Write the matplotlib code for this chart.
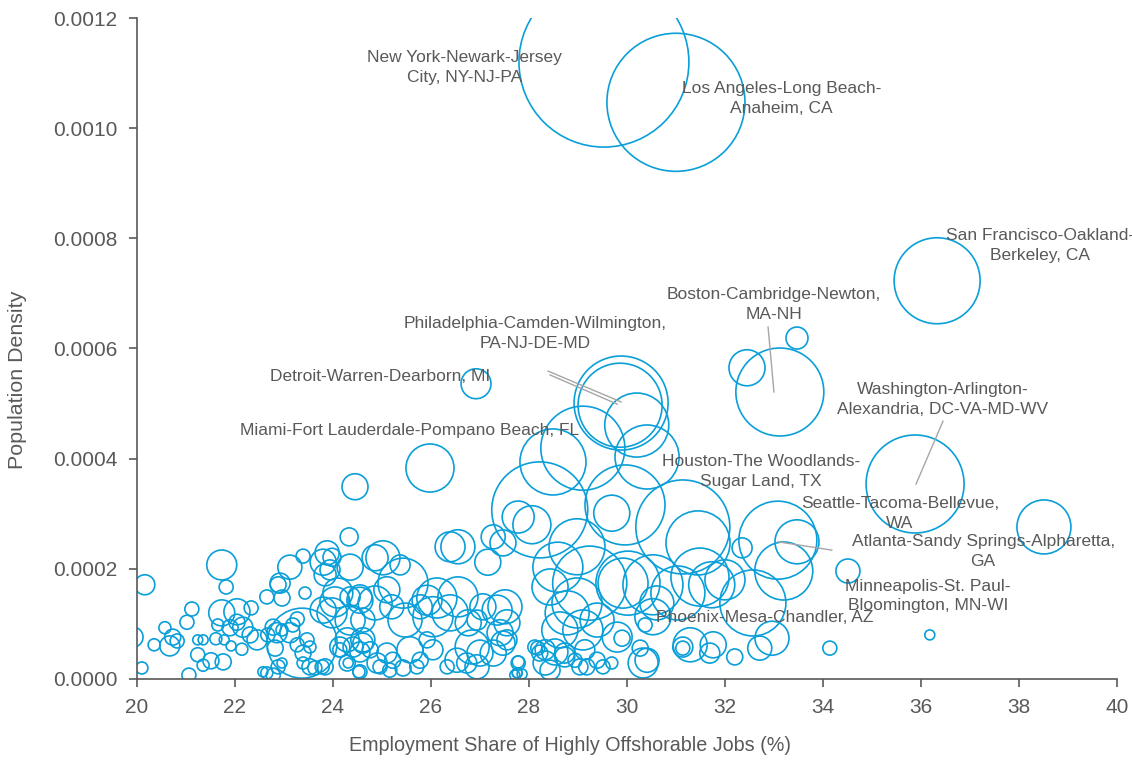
import matplotlib
matplotlib.use("Agg")
import matplotlib.pyplot as plt

plt.rcParams['font.family'] = ['Liberation Sans', 'DejaVu Sans']

BUBBLE = '#0A9FD8'
TEXT = '#595959'
LEADER = '#A6A6A6'

# metro areas: share of highly offshorable jobs (%), population density, population (millions)
share = [
    29.53, 31.00, 36.33, 33.12, 33.47, 32.45, 35.88, 38.51, 34.51, 33.08,
    33.47, 33.20, 34.14, 36.18, 26.92, 25.98, 24.45, 24.33, 29.88, 29.86,
    30.20, 30.41, 28.49, 29.10, 28.22, 27.78, 28.06, 27.27, 26.39, 26.55,
    27.16, 28.98, 29.96, 29.69, 31.14, 32.35, 31.45, 31.49, 32.57, 31.73,
    31.04, 30.53, 30.02, 32.00, 30.53, 30.37, 29.90, 29.80, 30.27, 30.41,
    30.33, 29.69, 31.14, 31.29, 31.69, 31.76, 32.20, 32.71, 32.96,
    27.51, 27.55, 27.47, 27.78, 27.71, 28.18, 28.22, 28.33, 28.43, 28.53,
    28.73, 29.04, 28.43, 28.59, 29.24, 28.98, 28.78, 28.63, 29.10, 29.39,
    29.92, 30.61, 31.14,
    25.02, 25.37, 25.43, 24.35, 23.88, 23.94, 23.80, 24.10, 24.55, 24.86,
    25.10, 25.20, 25.47, 25.78, 25.92, 26.12, 26.04, 26.39, 26.55, 26.76,
    26.94, 27.06, 27.35, 27.41, 27.55, 26.84, 27.00, 27.27, 26.53, 26.73,
    26.94, 26.33, 27.47, 27.76, 24.14, 24.41, 24.61, 24.76, 24.29, 24.55,
    25.10, 25.22, 25.57, 25.78, 25.71, 25.43, 24.96, 25.16, 23.84, 26.04,
    25.92,
    20.16, 19.92, 20.10, 21.73, 21.82, 21.12, 21.02, 20.57, 20.73, 20.67,
    20.82, 20.35, 21.24, 21.35, 21.24, 21.35, 21.51, 21.76, 21.06, 21.73,
    22.04, 22.33, 21.65, 21.90, 22.04, 22.16, 22.31, 21.61, 21.78, 21.92,
    22.14, 22.45, 22.65, 22.88, 22.96, 22.78, 22.67, 22.86, 22.96, 22.82,
    23.43, 23.27, 23.18, 23.12, 23.37, 23.27, 23.39, 23.47, 23.53, 23.39,
    23.53, 23.63, 23.78, 22.57, 22.65, 22.88, 22.78, 22.96, 23.12, 23.39,
    23.80, 23.98, 23.84, 24.86, 22.92, 24.04, 23.98, 24.35, 24.55, 24.35,
    24.61, 24.29, 24.61, 24.55, 24.14, 24.31, 24.53, 24.90,
    27.78, 27.76, 27.86, 29.18, 28.73, 28.33, 28.12, 29.14, 29.39, 29.51,
    28.94,
]
density = [
    0.001120, 0.001047, 0.000723, 0.000521, 0.000619, 0.000565, 0.000354, 0.000276, 0.000196, 0.000252,
    0.000249, 0.000196, 0.000056, 0.000080, 0.000536, 0.000383, 0.000349, 0.000258, 0.000501, 0.000497,
    0.000461, 0.000403, 0.000394, 0.000419, 0.000307, 0.000294, 0.000280, 0.000258, 0.000240, 0.000240,
    0.000212, 0.000240, 0.000316, 0.000301, 0.000276, 0.000238, 0.000247, 0.000185, 0.000138, 0.000171,
    0.000156, 0.000171, 0.000174, 0.000180, 0.000113, 0.000098, 0.000074, 0.000076, 0.000056, 0.000034,
    0.000029, 0.000029, 0.000056, 0.000062, 0.000047, 0.000062, 0.000040, 0.000056, 0.000074,
    0.000131, 0.000102, 0.000065, 0.000029, 0.000007, 0.000056, 0.000047, 0.000029, 0.000016, 0.000049,
    0.000040, 0.000022, 0.000167, 0.000203, 0.000174, 0.000138, 0.000120, 0.000089, 0.000089, 0.000107,
    0.000174, 0.000138, 0.000058,
    0.000220, 0.000207, 0.000174, 0.000203, 0.000229, 0.000198, 0.000125, 0.000156, 0.000149, 0.000138,
    0.000162, 0.000131, 0.000107, 0.000131, 0.000143, 0.000147, 0.000113, 0.000120, 0.000149, 0.000102,
    0.000107, 0.000131, 0.000125, 0.000084, 0.000071, 0.000058, 0.000047, 0.000047, 0.000034, 0.000029,
    0.000022, 0.000022, 0.000247, 0.000011, 0.000058, 0.000058, 0.000071, 0.000053, 0.000029, 0.000013,
    0.000047, 0.000034, 0.000053, 0.000034, 0.000022, 0.000020, 0.000022, 0.000016, 0.000022, 0.000053,
    0.000071,
    0.000171, 0.000076, 0.000020, 0.000207, 0.000167, 0.000127, 0.000103, 0.000093, 0.000076, 0.000060,
    0.000069, 0.000062, 0.000071, 0.000071, 0.000044, 0.000025, 0.000033, 0.000031, 0.000007, 0.000120,
    0.000122, 0.000129, 0.000098, 0.000093, 0.000103, 0.000094, 0.000080, 0.000073, 0.000071, 0.000060,
    0.000054, 0.000071, 0.000149, 0.000171, 0.000147, 0.000094, 0.000080, 0.000084, 0.000089, 0.000056,
    0.000156, 0.000109, 0.000098, 0.000084, 0.000065, 0.000062, 0.000047, 0.000071, 0.000058, 0.000029,
    0.000022, 0.000020, 0.000022, 0.000013, 0.000011, 0.000022, 0.000007, 0.000029, 0.000203, 0.000223,
    0.000212, 0.000221, 0.000189, 0.000220, 0.000174, 0.000140, 0.000120, 0.000149, 0.000143, 0.000107,
    0.000107, 0.000071, 0.000065, 0.000049, 0.000053, 0.000029, 0.000013, 0.000029,
    0.000031, 0.000011, 0.000009, 0.000022, 0.000047, 0.000053, 0.000058, 0.000053, 0.000034, 0.000022,
    0.000034,
]
population = [
    20.0, 13.2, 5.12, 5.36, 0.335, 0.90, 6.65, 2.02, 0.40, 4.21,
    1.34, 2.33, 0.136, 0.069, 0.62, 1.60, 0.468, 0.224, 6.12, 4.89,
    2.84, 2.84, 3.02, 4.89, 6.38, 0.709, 1.00, 0.40, 0.62, 0.80,
    0.468, 2.17, 4.43, 0.90, 6.12, 0.277, 2.84, 2.33, 3.02, 1.47,
    2.02, 2.49, 2.84, 1.11, 0.90, 0.136, 0.177, 0.62, 0.177, 0.40,
    0.62, 0.10, 0.136, 0.80, 0.277, 0.468, 0.177, 0.40, 0.80,
    0.80, 0.468, 0.40, 0.136, 0.069, 0.136, 0.177, 0.40, 0.277, 0.468,
    0.277, 0.177, 0.90, 1.73, 3.80, 1.73, 1.34, 0.90, 1.11, 0.80,
    1.73, 0.80, 0.277,
    0.80, 0.277, 1.73, 0.468, 0.40, 0.277, 0.468, 0.62, 0.40, 0.80,
    0.468, 0.40, 0.80, 0.40, 0.62, 1.11, 1.11, 0.90, 1.11, 0.468,
    0.277, 0.468, 0.62, 0.468, 0.277, 0.80, 0.468, 0.468, 0.40, 0.277,
    0.40, 0.136, 0.468, 0.069, 0.277, 0.277, 0.40, 0.177, 0.177, 0.136,
    0.277, 0.177, 0.468, 0.177, 0.136, 0.177, 0.136, 0.136, 0.177, 0.277,
    0.177,
    0.277, 0.277, 0.10, 0.62, 0.136, 0.136, 0.136, 0.10, 0.177, 0.277,
    0.136, 0.10, 0.069, 0.069, 0.136, 0.10, 0.177, 0.177, 0.136, 0.468,
    0.468, 0.136, 0.10, 0.177, 0.177, 0.277, 0.177, 0.10, 0.069, 0.069,
    0.10, 0.277, 0.136, 0.177, 0.177, 0.177, 0.136, 0.277, 0.10, 0.177,
    0.10, 0.136, 0.136, 0.277, 3.39, 0.136, 0.177, 0.136, 0.10, 0.10,
    0.177, 0.136, 0.136, 0.069, 0.10, 0.136, 0.136, 0.069, 0.40, 0.136,
    0.468, 0.224, 0.335, 0.468, 0.277, 0.62, 0.62, 0.277, 0.468, 0.62,
    0.40, 0.40, 0.277, 0.277, 0.136, 0.069, 0.10, 0.277,
    0.10, 0.069, 0.069, 0.177, 0.277, 0.277, 0.136, 0.277, 0.177, 0.136,
    0.136,
]

# callouts: text and where its centre sits
callouts = [
    ("New York-Newark-Jersey\nCity, NY-NJ-PA", 26.69, 0.001110),
    ("Los Angeles-Long Beach-\nAnaheim, CA", 33.16, 0.001054),
    ("San Francisco-Oakland-\nBerkeley, CA", 38.43, 0.000787),
    ("Boston-Cambridge-Newton,\nMA-NH", 33.00, 0.000680),
    ("Philadelphia-Camden-Wilmington,\nPA-NJ-DE-MD", 28.12, 0.000627),
    ("Detroit-Warren-Dearborn, MI", 24.96, 0.000550),
    ("Miami-Fort Lauderdale-Pompano Beach, FL", 25.57, 0.000452),
    ("Washington-Arlington-\nAlexandria, DC-VA-MD-WV", 36.45, 0.000507),
    ("Houston-The Woodlands-\nSugar Land, TX", 32.73, 0.000377),
    ("Seattle-Tacoma-Bellevue,\nWA", 35.57, 0.000300),
    ("Atlanta-Sandy Springs-Alpharetta,\nGA", 37.27, 0.000231),
    ("Minneapolis-St. Paul-\nBloomington, MN-WI", 36.14, 0.000151),
    ("Phoenix-Mesa-Chandler, AZ", 32.82, 0.000111),
]

# leader lines (start, end)
leaders = [
    ((32.88, 0.000639), (33.00, 0.000521)),
    ((36.45, 0.000468), (35.90, 0.000354)),
    ((34.18, 0.000234), (33.08, 0.000249)),
    ((28.39, 0.000559), (29.88, 0.000503)),
    ((28.43, 0.000552), (29.80, 0.000499)),
]

fig = plt.figure(figsize=(11.32, 7.61), dpi=100)
ax = fig.add_axes([0.121, 0.1078, 0.8657, 0.8685])

sizes = [p * 748.6 for p in population]
ax.scatter(share, density, s=sizes, facecolors='none', edgecolors=BUBBLE, linewidths=1.2)

for (x0, y0), (x1, y1) in leaders:
    ax.plot([x0, x1], [y0, y1], color=LEADER, lw=1, zorder=1)

for text, tx, ty in callouts:
    ax.text(tx, ty, text, ha='center', va='center', fontsize=12.5, color=TEXT,
            linespacing=1.38, zorder=5)

ax.set_xlim(20, 40)
ax.set_ylim(0, 0.0012)
ax.set_xticks(range(20, 41, 2))
ax.set_yticks([0, 0.0002, 0.0004, 0.0006, 0.0008, 0.0010, 0.0012])
ax.set_yticklabels(['%.4f' % v for v in ax.get_yticks()])

for side in ['top', 'right']:
    ax.spines[side].set_visible(False)
for side in ['left', 'bottom']:
    ax.spines[side].set_color(TEXT)
    ax.spines[side].set_linewidth(1.2)
ax.tick_params(colors=TEXT, labelsize=15, length=6, width=1.2, direction='out')
ax.tick_params(axis='x', pad=8)
ax.tick_params(axis='y', pad=8)

ax.set_xlabel('Employment Share of Highly Offshorable Jobs (%)', fontsize=14.2, color=TEXT)
ax.set_ylabel('Population Density', fontsize=15.4, color=TEXT)
ax.xaxis.set_label_coords(0.442, -0.087)
ax.yaxis.set_label_coords(-0.112, 0.452)

fig.savefig('out.png', dpi=100)
